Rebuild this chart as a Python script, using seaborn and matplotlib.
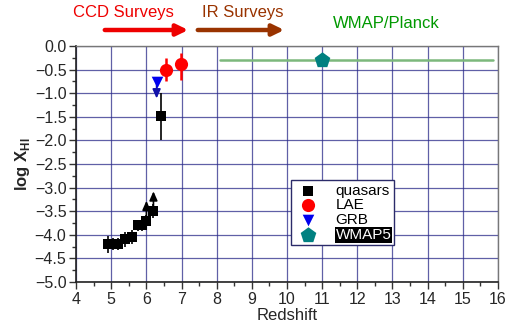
import matplotlib
matplotlib.use("Agg")
import matplotlib.pyplot as plt
import seaborn as sns
import pandas as pd
import numpy as np
from matplotlib.ticker import MultipleLocator

# ---- data ----
qso_z = [4.9, 5.05, 5.2, 5.4, 5.6, 5.75, 5.88, 6.0, 6.2]
qso_y = [-4.2, -4.2, -4.2, -4.1, -4.05, -3.8, -3.8, -3.7, -3.5]
qso_yerr = [0.18, 0.12, 0.12, 0.15, 0.15, 0.12, 0.12, 0.12, 0.15]
qso_lim_z = [6.0, 6.2]
qso_lim_y = [-3.7, -3.5]
qso_lim_len = [0.42, 0.42]
qso_hi_z = [6.42]
qso_hi_y = [-1.48]
qso_hi_lo = [0.52]
qso_hi_up = [0.48]

lae_z = [6.57, 6.98]
lae_y = [-0.5, -0.39]
lae_ylo = [0.25, 0.32]
lae_yup = [0.25, 0.25]

grb_z = [6.29]
grb_y = [-0.76]
grb_lim = [0.35]

wmap_z = [11.0]
wmap_y = [-0.3]
wmap_range = [8.1, 15.85]

labels = ["quasars", "LAE", "GRB", "WMAP5"]

sns.set_theme(style="white")
plt.rcParams['font.family'] = ['Liberation Sans', 'DejaVu Sans']

fig = plt.figure(figsize=(5.18, 3.27), dpi=100)
ax = fig.add_axes([0.147, 0.138, 0.814, 0.721])

grid_c = "#2b2b8a"
ax.set_xlim(4, 16)
ax.set_ylim(-5.0, 0.0)
ax.xaxis.set_major_locator(MultipleLocator(1))
ax.xaxis.set_minor_locator(MultipleLocator(0.5))
ax.yaxis.set_major_locator(MultipleLocator(0.5))
ax.yaxis.set_minor_locator(MultipleLocator(0.25))
ax.grid(True, which="major", color=grid_c, lw=0.9, alpha=0.75)
ax.set_axisbelow(True)
ax.tick_params(which="major", direction="out", length=5, width=1, color="#333333",
               labelsize=11.5, pad=2, bottom=True, left=True)
ax.tick_params(which="minor", direction="out", length=3, width=1, color="#333333",
               bottom=True, left=True)
ax.yaxis.set_major_formatter(matplotlib.ticker.FuncFormatter(
    lambda v, p: f"{v:.1f}".replace("-", "\u2212")))
for s in ["left", "bottom"]:
    ax.spines[s].set_color("#222222")
    ax.spines[s].set_linewidth(1.2)
for s in ["top", "right"]:
    ax.spines[s].set_color("#777777")
    ax.spines[s].set_linewidth(1.0)

# WMAP range line
ax.plot(wmap_range, [wmap_y[0], wmap_y[0]], color="#7cb87c", lw=1.8, zorder=2)

# error bars
ax.errorbar(qso_z, qso_y, yerr=qso_yerr, xerr=0.08, fmt="none", ecolor="black", elinewidth=1.2, zorder=3)
ax.errorbar(qso_hi_z, qso_hi_y, yerr=[qso_hi_lo, qso_hi_up], fmt="none", ecolor="black",
            elinewidth=1.2, zorder=3)
ax.errorbar(lae_z, lae_y, yerr=[lae_ylo, lae_yup], xerr=0.08, fmt="none", ecolor="red",
            elinewidth=1.8, zorder=3)
for z, y, L in zip(qso_lim_z, qso_lim_y, qso_lim_len):
    ax.annotate("", xy=(z, y + L), xytext=(z, y),
                arrowprops=dict(arrowstyle="-|>,head_length=0.45,head_width=0.2",
                                color="black", lw=1.2, shrinkA=0, shrinkB=0), zorder=3)
for z, y, L in zip(grb_z, grb_y, grb_lim):
    ax.annotate("", xy=(z, y - L), xytext=(z, y),
                arrowprops=dict(arrowstyle="-|>,head_length=0.45,head_width=0.2",
                                color="#1010aa", lw=1.2, shrinkA=0, shrinkB=0), zorder=3)

df = pd.DataFrame({
    "z": qso_z + qso_hi_z + lae_z + grb_z + wmap_z,
    "y": qso_y + qso_hi_y + lae_y + grb_y + wmap_y,
    "kind": ["quasars"] * (len(qso_z) + 1) + ["LAE"] * len(lae_z) + ["GRB"] + ["WMAP5"],
})
pal = {"quasars": "black", "LAE": "#ff0000", "GRB": "#0000ee", "WMAP5": "#008080"}
mk = {"quasars": "s", "LAE": "o", "GRB": "v", "WMAP5": "p"}
sz = {"quasars": 50, "LAE": 90, "GRB": 70, "WMAP5": 140}
for k in labels:
    sub = df[df.kind == k]
    sns.scatterplot(data=sub, x="z", y="y", color=pal[k], marker=mk[k], s=sz[k],
                    edgecolor=pal[k], linewidth=0, ax=ax, label=k, zorder=4, legend=True)

ax.set_xlabel("Redshift", fontsize=12, labelpad=1)
ax.set_ylabel(r"log X$_{\mathregular{HI}}$", fontsize=12, fontweight="bold", labelpad=2)

leg = ax.legend(loc="upper left", bbox_to_anchor=(0.51, 0.43), fontsize=11,
                frameon=True, fancybox=False, edgecolor="#2b2b6a", borderpad=0.2,
                labelspacing=0.05, handletextpad=0.9, handlelength=1.8, framealpha=1,
                borderaxespad=0)
leg.get_frame().set_linewidth(1.0)
for t in leg.get_texts():
    t.set_color("black")
wt = leg.get_texts()[3]
wt.set_color("white")
wt.set_bbox(dict(facecolor="black", edgecolor="none", pad=0.5))

# top annotations
fig.text(123 / 518, 1 - 12 / 327, "CCD Surveys", color="#ee0000", fontsize=12,
         ha="center", va="center")
fig.text(243 / 518, 1 - 12 / 327, "IR Surveys", color="#993300", fontsize=12,
         ha="center", va="center")
fig.text(386 / 518, 1 - 24 / 327, "WMAP/Planck", color="#009900", fontsize=12,
         ha="center", va="center")
ya = 1 - 30 / 327
fig.add_artist(matplotlib.patches.FancyArrowPatch((102 / 518, ya), (191 / 518, ya),
               transform=fig.transFigure, arrowstyle="-|>,head_length=4.5,head_width=2.2",
               color="#ee0000", lw=3.2, mutation_scale=1.5))
fig.add_artist(matplotlib.patches.FancyArrowPatch((195 / 518, ya), (287 / 518, ya),
               transform=fig.transFigure, arrowstyle="-|>,head_length=4.5,head_width=2.2",
               color="#993300", lw=3.2, mutation_scale=1.5))

fig.savefig("out.png", dpi=100)
